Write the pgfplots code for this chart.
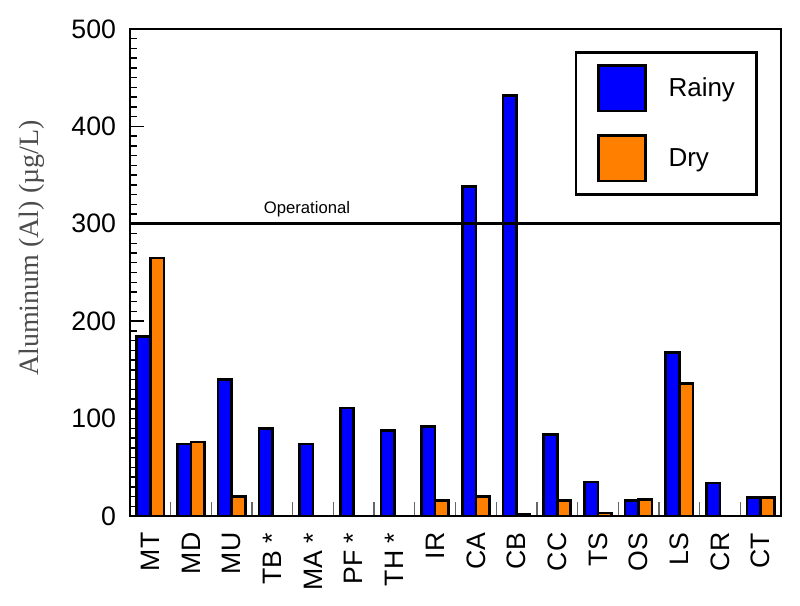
\documentclass[border=0pt]{standalone}
\usepackage{fontspec}
\setmainfont{Liberation Sans}
\newfontfamily\labelserif{Liberation Serif}
\usepackage{pgfplots}
\pgfplotsset{compat=1.18}
\definecolor{rainy}{RGB}{0,0,255}
\definecolor{dry}{RGB}{255,128,0}

\begin{document}
\begin{tikzpicture}
\useasboundingbox (-97.5pt,-67.5pt) rectangle (502.5pt,387pt);
\begin{axis}[
  scale only axis,
  width=488.25pt, height=365.25pt,
  at={(0,0)}, anchor=south west,
  xmin=-0.5, xmax=15.5,
  ymin=0, ymax=500,
  axis line style={line width=2pt},
  % group separators as the x ticks, site names as extra ticks
  xtick={0.5,1.5,...,14.5},
  xticklabels={},
  xtick style={draw=gray!80!black, line width=1pt},
  extra x ticks={0,...,15},
  extra x tick labels={MT,MD,MU,TB *,MA *,PF *,TH *,IR,CA,CB,CC,TS,OS,LS,CR,CT},
  extra x tick style={major tick length=0pt},
  x tick label style={rotate=90, anchor=east, font=\fontsize{20}{22}\selectfont},
  xticklabel shift=9pt,
  ytick={0,100,...,500},
  minor y tick num=9,
  ytick style={line width=1.1pt, black},
  major tick length=10.5pt,
  minor tick length=5pt,
  tick align=inside,
  xtick pos=bottom, ytick pos=left,
  y tick label style={font=\fontsize{20}{22}\selectfont},
  yticklabel shift=7pt,
  /pgf/number format/assume math mode=true,
  ylabel={\labelserif Aluminum (Al) (µg/L)},
  ylabel style={at={(axis description cs:-0.1505,0.55)}, anchor=center, rotate=0,
    font=\fontsize{21}{24}\selectfont, text=black!70},
  legend style={at={(1,1)}, anchor=north east, xshift=-17.5pt, yshift=-16.5pt,
    draw=black, line width=2pt, inner xsep=16pt, inner ysep=9pt,
    font=\fontsize{19.5}{22}\selectfont, row sep=16.5pt,
    nodes={inner sep=0pt},
    /tikz/every odd column/.append style={column sep=16.5pt}},
  legend cell align=left,
  mylegend/.style={legend image code/.code={
    \draw[##1, line width=2pt] (0pt,-17pt) rectangle (35pt,17pt);}},
]
\addplot[ybar, bar width=0.333, bar shift=-0.1667, fill=rainy, draw=black, line width=2pt, mylegend]
  coordinates {(0,184) (1,74) (2,140) (3,90) (4,74) (5,111) (6,88) (7,92)
               (8,338) (9,432) (10,84) (11,35) (12,16) (13,168) (14,34) (15,19)};
\addlegendentry{Rainy}
\addplot[ybar, bar width=0.333, bar shift=0.1667, fill=dry, draw=black, line width=2pt, mylegend]
  coordinates {(0,265) (1,76) (2,20) (7,16) (8,20) (9,2) (10,16) (11,3)
               (12,17) (13,136) (15,19)};
\addlegendentry{Dry}
\addplot[black, line width=2pt, sharp plot, forget plot] coordinates {(-0.5,300) (15.5,300)};
\node[anchor=south, inner sep=0pt, yshift=5pt, font=\fontsize{12.5}{14}\selectfont] at (axis cs:3.85,300) {Operational};
\end{axis}
\end{tikzpicture}
\end{document}
